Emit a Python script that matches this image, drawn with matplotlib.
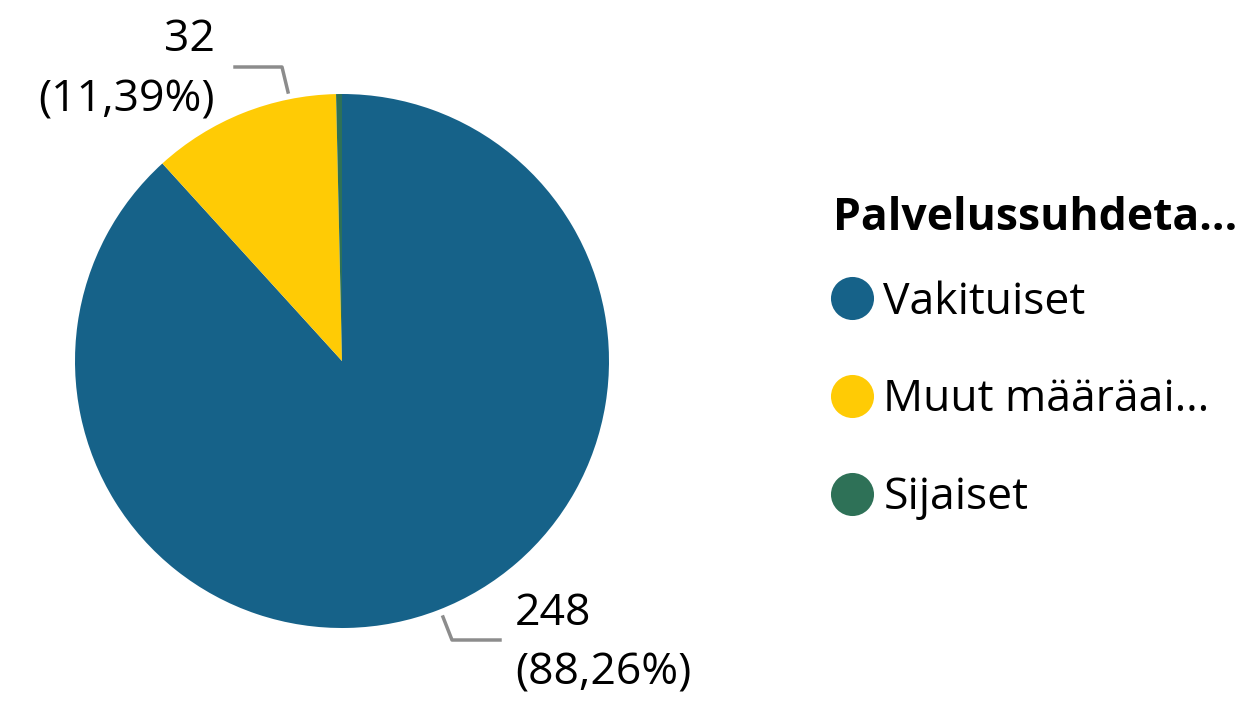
import matplotlib
matplotlib.use("Agg")
import matplotlib.pyplot as plt
from matplotlib.lines import Line2D

categories = ["Vakituiset", "Muut määräai…", "Sijaiset"]
values = [248, 32, 1]
colors = ["#166289", "#FFCB05", "#2E7157"]
legend_title = "Palvelussuhdeta…"

W, H = 1246, 703
plt.rcParams['font.family'] = ['Open Sans', 'DejaVu Sans']

fig = plt.figure(figsize=(W / 100, H / 100), dpi=100)
ax = fig.add_axes([0, 0, 1, 1])


def Y(py):
    return H - py


wedges, _ = ax.pie(values, colors=colors, startangle=90, counterclock=False,
                   center=(342, Y(361)), radius=267, frame=True,
                   wedgeprops=dict(linewidth=0))
ax.set_xlim(0, W)
ax.set_ylim(0, H)
ax.axis('off')

total = sum(values)


def fmt(v):
    return f"({v / total * 100:.2f}%)".replace('.', ',')


# data labels with leader lines
grey = "#8C8C8C"
ax.plot([288, 282, 235], [Y(92), Y(67), Y(67)], color=grey, lw=2.5)
ax.text(215, Y(40), str(values[1]), ha='right', va='center', fontsize=32)
ax.text(215, Y(100), fmt(values[1]), ha='right', va='center', fontsize=32)

ax.plot([443, 452, 500], [Y(617), Y(640), Y(640)], color=grey, lw=2.5)
ax.text(515, Y(614), str(values[0]), ha='left', va='center', fontsize=32)
ax.text(515, Y(673), fmt(values[0]), ha='left', va='center', fontsize=32)

# legend title drawn separately so its gap can be set on its own
ax.text(833, Y(219), legend_title, ha='left', va='center',
        fontsize=32, fontweight='bold')

handles = [Line2D([], [], marker='o', linestyle='none', markersize=31,
                  markerfacecolor=c, markeredgewidth=0) for c in colors]
leg = ax.legend(handles, categories, loc='upper left',
                bbox_to_anchor=(830 / W, 1 - 280 / H), frameon=False,
                fontsize=32, handletextpad=0.2, handlelength=1.0,
                labelspacing=1.2, borderpad=0, borderaxespad=0)

fig.savefig("out.png", dpi=100)
